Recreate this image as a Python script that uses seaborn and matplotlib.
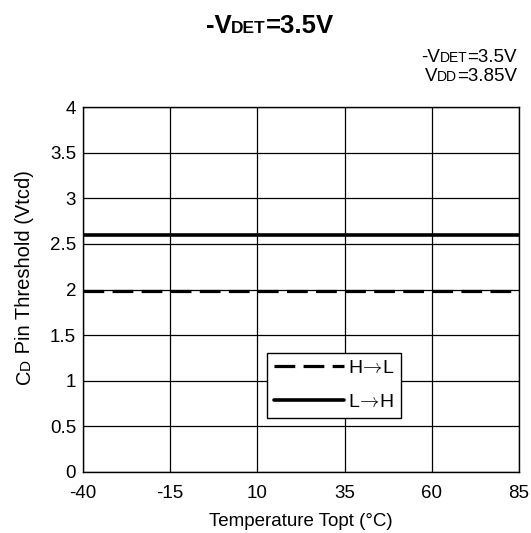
import matplotlib
matplotlib.use("Agg")
import matplotlib.pyplot as plt
import seaborn as sns
import pandas as pd

# ---- data ----
temps = [-40, -15, 10, 35, 60, 85]
h_to_l = [1.98, 1.98, 1.98, 1.98, 1.98, 1.98]
l_to_h = [2.60, 2.60, 2.60, 2.60, 2.60, 2.60]
series_names = ["H$\\!\\rightarrow\\!$L", "L$\\!\\rightarrow\\!$H"]
x_ticks = [-40, -15, 10, 35, 60, 85]
x_ticklabels = ["-40", "-15", "10", "35", "60", "85"]
y_ticks = [0, 0.5, 1, 1.5, 2, 2.5, 3, 3.5, 4]
y_ticklabels = ["0", "0.5", "1", "1.5", "2", "2.5", "3", "3.5", "4"]

sns.set_theme(style="white")
FAM = ["Liberation Sans", "DejaVu Sans"]
plt.rcParams["font.family"] = FAM
plt.rcParams["mathtext.fontset"] = "cm"

W, H = 531, 533
TOP, BOT, LEFT, RIGHT = 107, 472, 83, 519
fig = plt.figure(figsize=(W / 100, H / 100), dpi=100)
ax = fig.add_axes([LEFT / W, 1 - BOT / H, (RIGHT - LEFT) / W, (BOT - TOP) / H])

df = pd.DataFrame({
    "temp": temps * 2,
    "v": h_to_l + l_to_h,
    "series": [series_names[0]] * len(temps) + [series_names[1]] * len(temps),
})

sns.lineplot(data=df[df.series == series_names[0]], x="temp", y="v", ax=ax,
             color="black", lw=2.3, label=series_names[0])
sns.lineplot(data=df[df.series == series_names[1]], x="temp", y="v", ax=ax,
             color="black", lw=2.6, label=series_names[1])
ax.lines[0].set_dashes((6.5, 2.6))
ax.lines[0].set_dash_capstyle("butt")

ax.set_xlim(-40, 85)
ax.set_ylim(0, 4)
ax.set_xticks(x_ticks)
ax.set_xticklabels(x_ticklabels)
ax.set_yticks(y_ticks)
ax.set_yticklabels(y_ticklabels)
ax.tick_params(axis="both", length=0, labelsize=13.5, colors="black")
ax.tick_params(axis="x", pad=9)
ax.tick_params(axis="y", pad=5)
ax.grid(True, color="black", lw=0.9)
for s in ax.spines.values():
    s.set_color("black")
    s.set_linewidth(1.0)
ax.set_xlabel("Temperature Topt (\u00b0C)", fontsize=13.5, color="black", labelpad=8)
ax.set_ylabel("")

leg = ax.legend(loc="lower left", bbox_to_anchor=(0.422, 0.148), borderaxespad=0,
                fontsize=14, frameon=True, fancybox=False, edgecolor="black",
                framealpha=1, handlelength=3.6, handletextpad=0.2,
                labelspacing=0.85, borderpad=0.35)
leg.get_frame().set_linewidth(1.0)
for t in leg.get_texts():
    t.set_color("black")

fig.canvas.draw()
renderer = fig.canvas.get_renderer()


def rich_text(x_px, y_px, parts, ha="center", rotation=0, weight="normal"):
    texts = []
    for s, size in parts:
        t = fig.text(0, 0, s, fontsize=size, va="baseline", ha="left",
                     rotation=rotation, rotation_mode="anchor",
                     fontweight=weight, color="black", family=FAM)
        texts.append(t)
    ext = []
    for t in texts:
        bb = t.get_window_extent(renderer)
        ext.append(bb.width if rotation == 0 else bb.height)
    total = sum(ext)
    if rotation == 0:
        start = x_px - (total / 2 if ha == "center" else total if ha == "right" else 0)
        cur = start
        for t, e in zip(texts, ext):
            t.set_position((cur / W, 1 - y_px / H))
            cur += e
    else:
        start = (H - y_px) - total / 2
        cur = start
        for t, e in zip(texts, ext):
            t.set_position((x_px / W, cur / H))
            cur += e


rich_text(270, 33, [("-V", 18.5), ("DET", 12.5), ("=3.5V", 18.5)], ha="center", weight="bold")
rich_text(517, 62, [("-V", 13.5), ("DET", 10), ("=3.5V", 13.5)], ha="right")
rich_text(517, 81, [("V", 13.5), ("DD", 10), ("=3.85V", 13.5)], ha="right")
rich_text(30, 277, [("C", 14.5), ("D", 11), (" Pin Threshold (Vtcd)", 14.5)], rotation=90)

fig.savefig("out.png", dpi=100)
